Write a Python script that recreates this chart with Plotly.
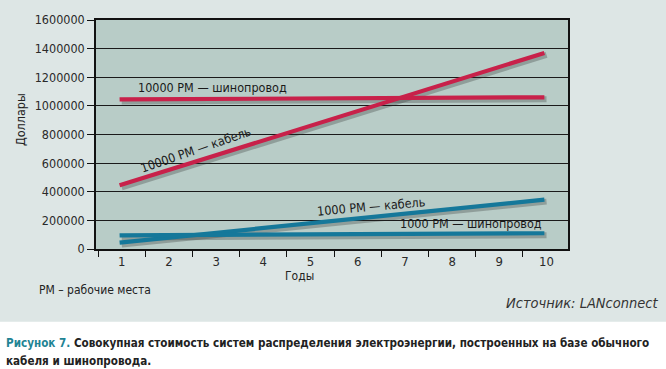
import plotly.graph_objects as go

years = [str(y) for y in range(1, 11)]
x_ends = ["1", "10"]
bus_10000 = [1045000, 1060000]
cable_10000 = [445000, 1370000]
cable_1000 = [45000, 345000]
bus_1000 = [95000, 110000]
y_ticks = [0, 200000, 400000, 600000, 800000, 1000000, 1200000, 1400000, 1600000]

RED = "#c8214a"
BLUE = "#15789a"
FONT = "DejaVu Sans Condensed, Liberation Sans Narrow, Liberation Sans, Arial"

fig = go.Figure()

series = [(bus_10000, RED), (cable_10000, RED), (cable_1000, BLUE), (bus_1000, BLUE)]
# shadows on base axes
for vals, col in series:
    fig.add_trace(go.Scatter(x=x_ends, y=vals, mode="lines", xaxis="x", yaxis="y",
                             line=dict(color="rgba(40,40,40,0.28)", width=6),
                             hoverinfo="skip", showlegend=False))
# main lines on overlay axes
for vals, col in series:
    fig.add_trace(go.Scatter(x=x_ends, y=vals, mode="lines", xaxis="x2", yaxis="y2",
                             line=dict(color=col, width=4.2), showlegend=False))

xcommon = dict(type="category", categoryorder="array", categoryarray=years)
fig.update_layout(
    width=666, height=369,
    margin=dict(l=96, r=98, t=20, b=120),
    paper_bgcolor="#dde6e5",
    plot_bgcolor="#b8ccc7",
    font=dict(family=FONT, size=13, color="#222"),
    xaxis=dict(**xcommon, range=[-0.5 - 0.045, 9.5 - 0.045], tickson="boundaries",
               ticks="outside", ticklen=6, tickcolor="#111", showgrid=False,
               showline=True, linecolor="#111", linewidth=1.5, mirror=True,
               tickfont=dict(size=13, color="#2a2a2a")),
    yaxis=dict(range=[0 + 14000, 1600000 + 14000], tickvals=[v + 14000 for v in y_ticks],
               ticktext=[str(v) for v in y_ticks], showgrid=True, gridcolor="#1a1a1a",
               gridwidth=1, ticks="outside", ticklen=7, tickcolor="#111",
               showline=True, linecolor="#111", linewidth=1.5, mirror=True, zeroline=False,
               tickfont=dict(size=12.5, color="#2a2a2a")),
    xaxis2=dict(**xcommon, range=[-0.5, 9.5], overlaying="x", visible=False),
    yaxis2=dict(range=[0, 1600000], overlaying="y", visible=False),
)

# white caption area
fig.add_shape(type="rect", xref="paper", yref="paper", x0=-0.3, x1=1.3,
              y0=-0.56, y1=-0.318, fillcolor="white", line=dict(width=0), layer="below")

ann = [
    dict(x=1.96, y=1130000, text="10000 РМ — шинопровод", textangle=0),
    dict(x=1.62, y=695000, text="10000 РМ — кабель", textangle=-19),
    dict(x=5.32, y=295000, text="1000 РМ — кабель", textangle=-5),
    dict(x=7.45, y=178000, text="1000 РМ — шинопровод", textangle=0),
]
for a in ann:
    fig.add_annotation(xref="x2", yref="y2", showarrow=False, font=dict(size=12.5, color="#1a1a1a"), **a)

def pann(x, y, text, size, xanchor="center", **kw):
    fig.add_annotation(xref="paper", yref="paper", x=x, y=y, text=text, showarrow=False,
                       xanchor=xanchor, yanchor="middle", font=dict(size=size, color=kw.pop("color", "#222")), **kw)

pann(-0.161, 0.563, "Доллары", 12.5, textangle=-90)
pann(0.432, -0.118, "Годы", 12)
pann(-0.125, -0.179, "РМ – рабочие места", 12, xanchor="left")
pann(1.195, -0.236, "<i>Источник: LANconnect</i>", 14.5, xanchor="right", color="#333")
pann(-0.195, -0.410,
     "<b><span style='color:#1f8494'>Рисунок 7.</span> Совокупная стоимость систем распределения электроэнергии, построенных на базе обычного</b>",
     11.6, xanchor="left")
pann(-0.195, -0.489, "<b>кабеля и шинопровода.</b>", 11.6, xanchor="left")

fig.write_html("out.html", post_script="document.body.style.margin='0';",
               config={"displayModeBar": False})
